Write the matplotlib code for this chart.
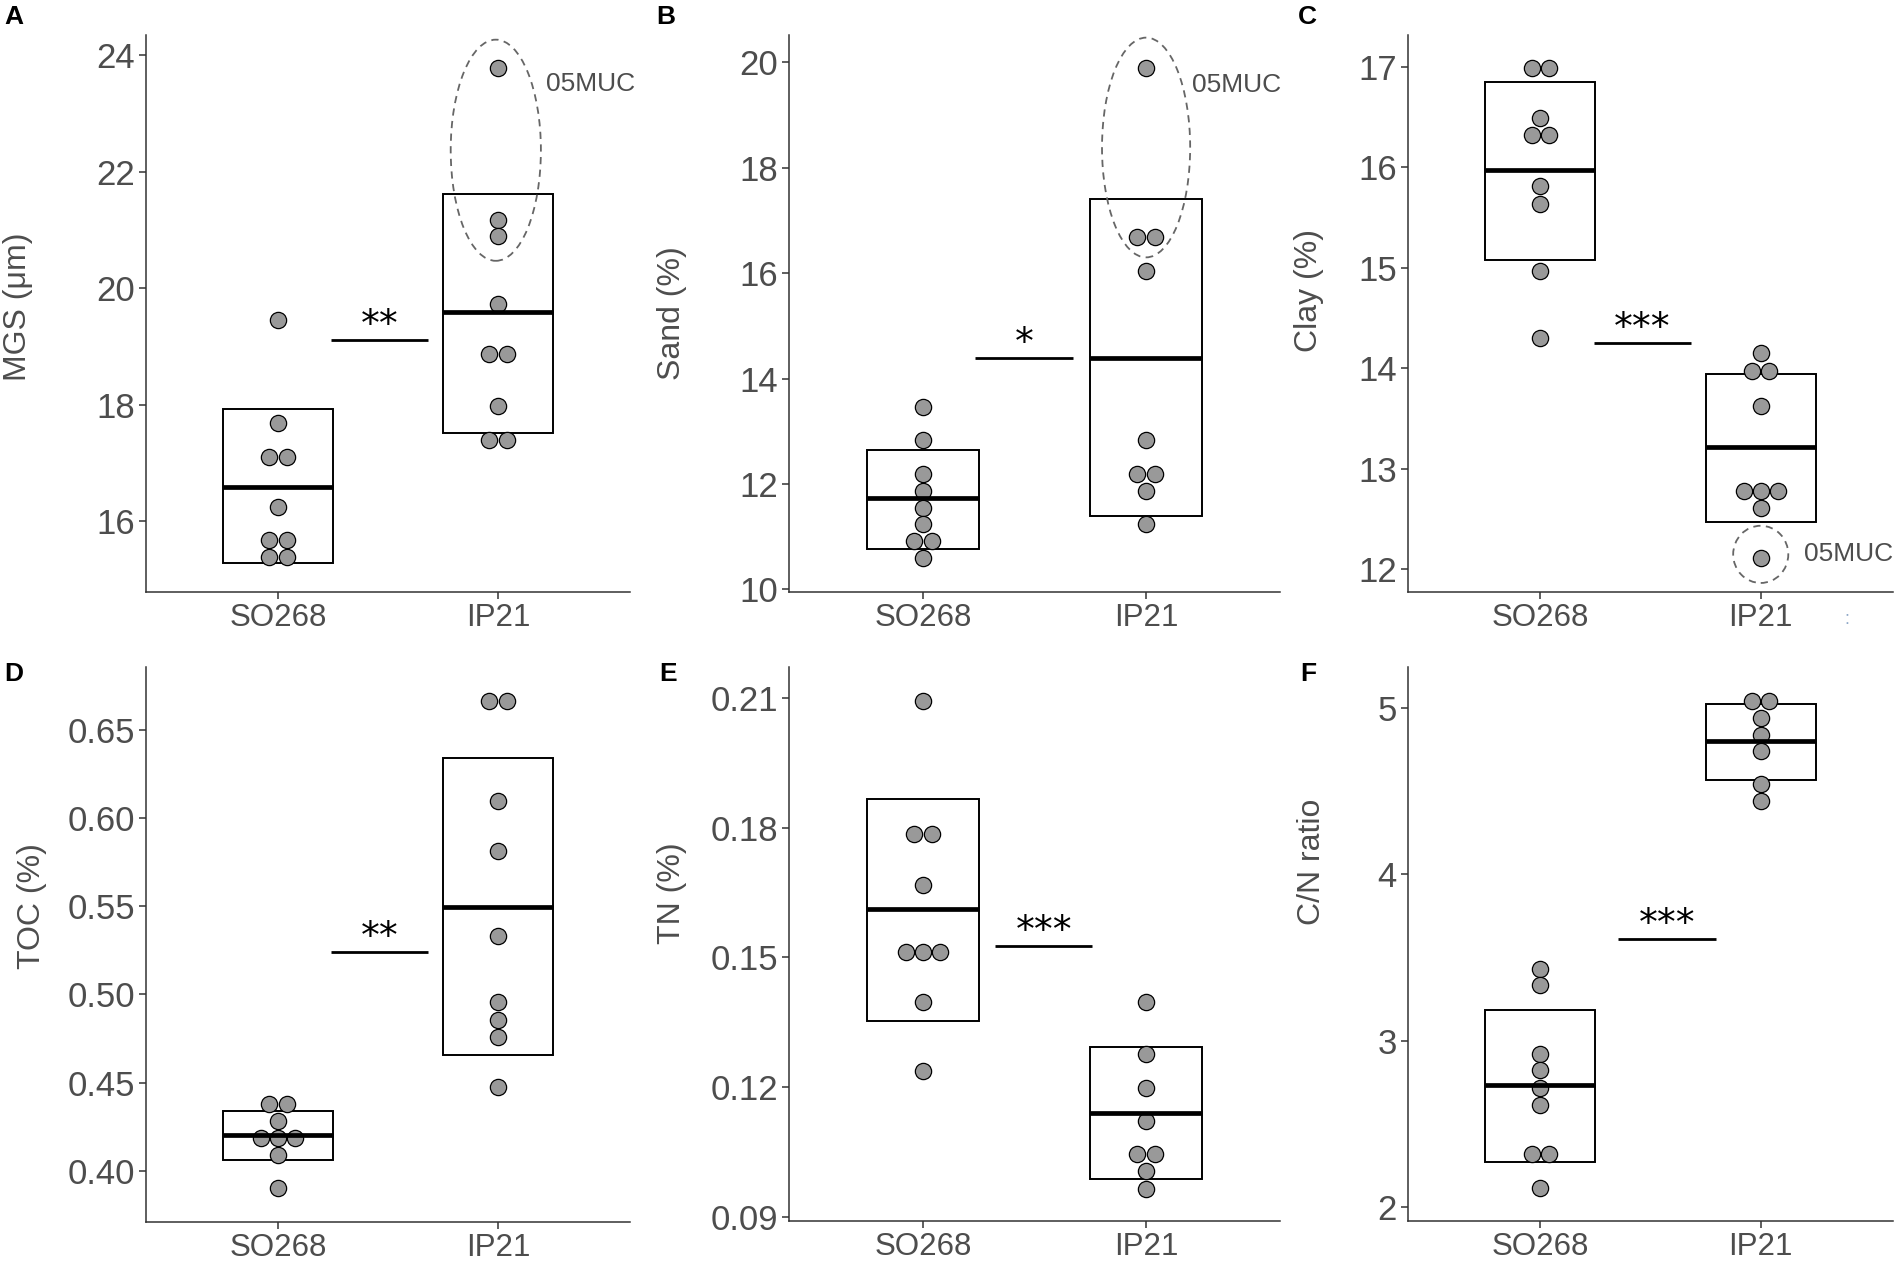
import numpy as np
import matplotlib.pyplot as plt
from matplotlib.patches import Ellipse, Rectangle
from matplotlib.transforms import blended_transform_factory

plt.rcParams['font.family'] = ['Liberation Sans', 'DejaVu Sans']

W, H = 1902, 1267

groups = ['SO268', 'IP21']

# values
mgs_so = [19.45, 17.68, 17.10, 17.10, 16.24, 15.67, 15.67, 15.38, 15.38]
mgs_ip = [23.78, 21.18, 20.89, 19.73, 18.87, 18.87, 17.98, 17.40, 17.40]
mgs_box = [(15.27, 16.58, 17.92), (17.52, 19.59, 21.62)]

sand_so = [13.47, 12.83, 12.19, 11.87, 11.55, 11.24, 10.92, 10.92, 10.59]
sand_ip = [19.89, 16.68, 16.68, 16.04, 12.83, 12.19, 12.19, 11.87, 11.24]
sand_box = [(10.77, 11.74, 12.65), (11.39, 14.40, 17.40)]

clay_so = [16.99, 16.99, 16.49, 16.32, 16.32, 15.82, 15.64, 14.97, 14.30]
clay_ip = [14.15, 13.97, 13.97, 13.62, 12.78, 12.78, 12.78, 12.61, 12.11]
clay_box = [(15.08, 15.97, 16.85), (12.47, 13.21, 13.94)]

toc_so = [0.438, 0.438, 0.4286, 0.4189, 0.4189, 0.4189, 0.4092, 0.3903]
toc_ip = [0.6662, 0.6662, 0.6095, 0.5811, 0.5333, 0.4957, 0.4853, 0.4759, 0.4477]
toc_box = [(0.4061, 0.4203, 0.4343), (0.4655, 0.5496, 0.6336)]

tn_so = [0.2093, 0.1785, 0.1785, 0.1667, 0.1512, 0.1512, 0.1512, 0.1397, 0.1237]
tn_ip = [0.1397, 0.1276, 0.1199, 0.1123, 0.1045, 0.1045, 0.1006, 0.0966]
tn_box = [(0.1354, 0.1613, 0.1867), (0.0988, 0.1141, 0.1294)]

cn_so = [3.432, 3.331, 2.920, 2.821, 2.717, 2.614, 2.316, 2.316, 2.112]
cn_ip = [5.041, 5.041, 4.940, 4.837, 4.737, 4.539, 4.438]
cn_box = [(2.272, 2.734, 3.183), (4.567, 4.802, 5.024)]

stars = ['**', '*', '***', '**', '***', '***']
ylabels = ['MGS (μm)', 'Sand (%)', 'Clay (%)', 'TOC (%)', 'TN (%)', 'C/N ratio']
letters = ['A', 'B', 'C', 'D', 'E', 'F']

# layout in pixels: (left, right, top, bottom)
rects = [(146, 630, 35, 592), (789, 1280, 35, 592), (1408, 1893, 35, 592),
         (146, 630, 667, 1222), (789, 1280, 667, 1221), (1408, 1893, 667, 1221)]
ylims = [(14.78, 24.35), (9.95, 20.52), (11.77, 17.32),
         (0.3712, 0.6854), (0.0891, 0.2171), (1.916, 5.244)]
yticks = [[16, 18, 20, 22, 24], [10, 12, 14, 16, 18, 20], [12, 13, 14, 15, 16, 17],
          [0.40, 0.45, 0.50, 0.55, 0.60, 0.65], [0.09, 0.12, 0.15, 0.18, 0.21], [2, 3, 4, 5]]
yfmt = ['{:.0f}', '{:.0f}', '{:.0f}', '{:.2f}', '{:.2f}', '{:.0f}']
# significance bar: x0, x1, y
sigs = [(1.243, 1.683, 19.11), (1.235, 1.673, 14.40), (1.243, 1.684, 14.25),
        (1.243, 1.683, 0.5243), (1.325, 1.758, 0.1526), (1.353, 1.798, 3.613)]
ylab_pos = [(18, 307), (672, 313), (1309, 291), (32, 906), (672, 893), (1312, 862)]
letter_pos = [(4, 5), (656, 5), (1298, 5), (4, 662), (659, 662), (1300, 662)]

panels = [(mgs_so, mgs_ip, mgs_box), (sand_so, sand_ip, sand_box), (clay_so, clay_ip, clay_box),
          (toc_so, toc_ip, toc_box), (tn_so, tn_ip, tn_box), (cn_so, cn_ip, cn_box)]

fig = plt.figure(figsize=(W / 100, H / 100), dpi=100)
txtcol = '#4d4d4d'
step = 0.078

for i, (so, ip, box) in enumerate(panels):
    l, r, t, b = rects[i]
    ax = fig.add_axes([l / W, 1 - b / H, (r - l) / W, (b - t) / H])
    for spn in ['top', 'right']:
        ax.spines[spn].set_visible(False)
    for spn in ['left', 'bottom']:
        ax.spines[spn].set_color('#333333')
        ax.spines[spn].set_linewidth(1.1)
    ax.set_xlim(0.4, 2.6)
    ax.set_ylim(*ylims[i])
    ax.set_xticks([1, 2])
    ax.set_xticklabels(groups)
    ax.set_yticks(yticks[i])
    ax.set_yticklabels([yfmt[i].format(v) for v in yticks[i]])
    ax.tick_params(axis='y', labelsize=25, colors='#333333', labelcolor=txtcol,
                   length=5, width=1.1, pad=3)
    ax.tick_params(axis='x', labelsize=22.5, colors='#333333', labelcolor=txtcol,
                   length=5, width=1.1, pad=3)

    for g, vals in enumerate([so, ip]):
        xc = g + 1
        lo, mid, hi = box[g]
        ax.add_patch(Rectangle((xc - 0.25, lo), 0.5, hi - lo, facecolor='white',
                               edgecolor='black', lw=1.4, zorder=2))
        # spread tied values sideways like a dotplot
        vals = np.array(vals)
        xs = np.zeros(len(vals))
        for v in np.unique(vals):
            idx = np.where(vals == v)[0]
            xs[idx] = (np.arange(len(idx)) - (len(idx) - 1) / 2) * step
        ax.scatter(xc + xs, vals, s=137, facecolor='#999999', edgecolor='black',
                   linewidth=0.9, zorder=3)
        ax.plot([xc - 0.25, xc + 0.25], [mid, mid], color='black', lw=3.4,
                solid_capstyle='butt', zorder=4)

    x0, x1, ys = sigs[i]
    ax.plot([x0, x1], [ys, ys], color='black', lw=2.0, solid_capstyle='butt', zorder=4)
    ax.annotate(stars[i], ((x0 + x1) / 2, ys), xytext=(0, -3), textcoords='offset points',
                ha='center', va='bottom', fontsize=27, family='DejaVu Sans', color='black')

    fig.text(ylab_pos[i][0] / W, 1 - ylab_pos[i][1] / H, ylabels[i], rotation=90,
             ha='center', va='center', fontsize=23, color=txtcol)
    fig.text(letter_pos[i][0] / W, 1 - letter_pos[i][1] / H, letters[i],
             ha='left', va='top', fontsize=19, fontweight='bold', color='black')

    ell_kw = dict(facecolor='none', edgecolor='#666666', lw=1.3,
                  linestyle=(0, (4, 3)), zorder=5)
    if i == 0:
        ax.add_patch(Ellipse((1.99, 22.37), 0.41, 3.80, **ell_kw))
        ax.text(2.22, 23.5, '05MUC', ha='left', va='center', fontsize=19, color=txtcol)
    elif i == 1:
        ax.add_patch(Ellipse((2.0, 18.385), 0.395, 4.17, **ell_kw))
        ax.text(2.206, 19.58, '05MUC', ha='left', va='center', fontsize=19, color=txtcol)
    elif i == 2:
        ax.add_patch(Ellipse((2.0, 12.145), 0.25, 0.57, **ell_kw))
        ax.text(2.195, 12.15, '05MUC', ha='left', va='center', fontsize=19, color=txtcol)
        tr = blended_transform_factory(ax.transData, ax.transAxes)
        ax.text(2.39, -0.05, ':', transform=tr, ha='center', va='center',
                fontsize=13, color='#8fa8c8')

fig.savefig('out.png', dpi=100, facecolor='white')
